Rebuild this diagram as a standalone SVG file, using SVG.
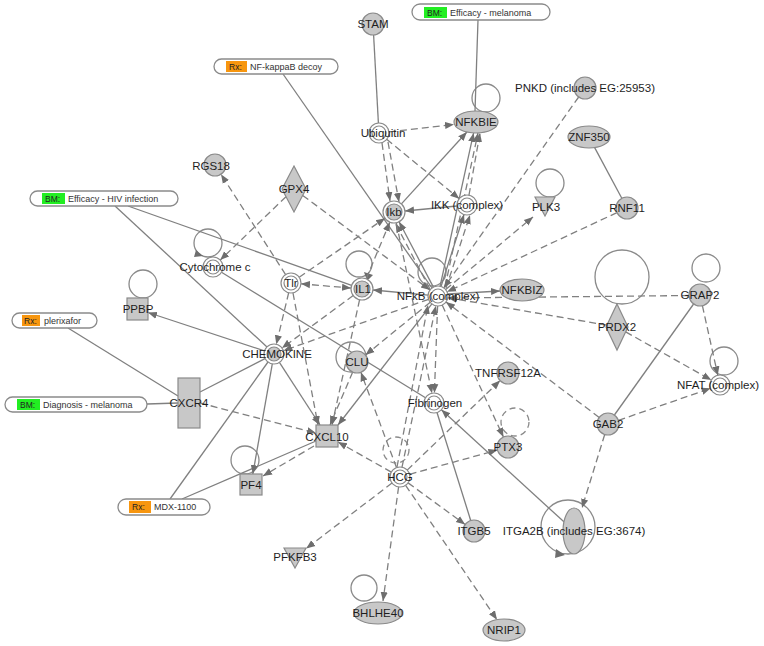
<svg xmlns="http://www.w3.org/2000/svg" width="764" height="646" viewBox="0 0 764 646">
<style>
.s{stroke:#808080;stroke-width:1.3;fill:none}
.d{stroke:#808080;stroke-width:1.3;fill:none;stroke-dasharray:7,4}
.a{marker-end:url(#ah)}
.b{marker-start:url(#ah);marker-end:url(#ah)}
.lp{stroke:#8a8a8a;stroke-width:1.3;fill:none}
.ld{stroke:#8a8a8a;stroke-width:1.3;fill:none;stroke-dasharray:6,4}
.g{fill:#c8c8c8;stroke:#8a8a8a;stroke-width:1.2}
.w{fill:#fff;stroke:#8a8a8a;stroke-width:1.2}
.t{font-family:"Liberation Sans",Arial,sans-serif;font-size:11.5px;fill:#1e1e1e;text-anchor:middle}
.pill{fill:#fff;stroke:#8a8a8a;stroke-width:1.3}
.pt{font-family:"Liberation Sans",Arial,sans-serif;font-size:9px;fill:#333}
.tg{font-family:"Liberation Sans",Arial,sans-serif;font-size:8.5px;fill:#222}
.bm{fill:#22ee22}
.rx{fill:#f7960f}
.ah{fill:#6e6e6e}
</style>
<defs>
<marker id="ah" viewBox="0 0 10 10" refX="10" refY="5" markerWidth="9" markerHeight="9" markerUnits="userSpaceOnUse" orient="auto-start-reverse">
<path d="M0,1 L10,5 L0,9 z" fill="#6e6e6e"/>
</marker>
</defs>
<rect width="764" height="646" fill="#fff"/>
<g id="connectors">
<!-- self loops -->
<circle class="lp" cx="486" cy="98" r="14"/>
<circle class="lp" cx="550" cy="183" r="14"/>
<circle class="lp" cx="208" cy="243" r="14"/>
<circle class="lp" cx="359" cy="264" r="13"/>
<circle class="lp" cx="432" cy="272" r="14"/>
<circle class="lp" cx="143" cy="284" r="14"/>
<circle class="lp" cx="351" cy="357" r="15"/>
<circle class="ld" cx="515" cy="422" r="14"/>
<circle class="lp" cx="622" cy="277" r="27"/>
<circle class="lp" cx="706" cy="268" r="14"/>
<circle class="lp" cx="724" cy="361" r="14"/>
<circle class="lp" cx="245" cy="460" r="14"/>
<circle class="ld" cx="396" cy="450" r="13"/>
<circle class="lp" cx="568" cy="527" r="27"/>
<circle class="lp" cx="364" cy="588" r="13"/>
<polygon class="ah" points="364,272 373,275 367,281"/>
<polygon class="ah" points="556,549 565,555 555,558"/>
<polygon class="ah" points="196,250 203,256 194,257"/>
<!-- solid, no arrow -->
<line class="s" x1="373.6" y1="35" x2="378.4" y2="123"/>
<line class="s" x1="478" y1="20" x2="475" y2="111"/>
<line class="s" x1="283" y1="74" x2="432" y2="288"/>
<line class="s" x1="115" y1="206" x2="267" y2="347"/>
<line class="s" x1="128" y1="206" x2="351.6" y2="285.3"/>
<line class="s" x1="68" y1="328" x2="178" y2="396"/>
<line class="s" x1="147" y1="404" x2="178" y2="403"/>
<line class="s" x1="170" y1="499" x2="268" y2="362"/>
<line class="s" x1="182" y1="499" x2="316" y2="441"/>
<line class="s" x1="265" y1="358.6" x2="200" y2="392"/>
<line class="s" x1="221.5" y1="272.2" x2="425.5" y2="397.8"/>
<line class="s" x1="437" y1="412.5" x2="470.7" y2="520.5"/>
<line class="s" x1="693.6" y1="304" x2="614.4" y2="415"/>
<line class="s" x1="594.4" y1="147.1" x2="621.8" y2="198.3"/>
<!-- solid, arrow -->
<line class="s a" x1="264.5" y1="350.9" x2="148" y2="312.5"/>
<line class="s a" x1="272.3" y1="363.9" x2="252.8" y2="474"/>
<line class="s a" x1="279.4" y1="362.4" x2="320" y2="425"/>
<line class="s a" x1="457" y1="206" x2="405" y2="211"/>
<line class="s a" x1="401.4" y1="203.9" x2="466.9" y2="132"/>
<line class="s a" x1="440.1" y1="286.2" x2="473.6" y2="132.9"/>
<line class="s a" x1="441" y1="286.5" x2="464" y2="214.5"/>
<line class="s a" x1="433.4" y1="287.1" x2="399.1" y2="221.7"/>
<line class="s a" x1="428" y1="295.1" x2="373" y2="290"/>
<line class="s a" x1="431.9" y1="303.9" x2="338" y2="425"/>
<line class="s a" x1="563.9" y1="521.8" x2="441.4" y2="409.8"/>
<line class="s a" x1="448" y1="294" x2="500" y2="291"/>
<!-- dashed -->
<line class="d a" x1="286" y1="196.7" x2="220.2" y2="260.1"/>
<line class="d a" x1="302.7" y1="195.4" x2="430" y2="290"/>
<line class="d a" x1="285.6" y1="274.6" x2="221" y2="174.3"/>
<line class="d a" x1="389" y1="131.9" x2="454" y2="124.5"/>
<line class="d a" x1="382" y1="143" x2="390" y2="201"/>
<line class="d a" x1="388" y1="142" x2="399" y2="202"/>
<line class="d a" x1="386.7" y1="139.3" x2="459.3" y2="198.7"/>
<line class="d a" x1="445" y1="287" x2="478" y2="133"/>
<line class="d a" x1="469" y1="195" x2="480" y2="133"/>
<line class="d a" x1="446" y1="288" x2="470" y2="215"/>
<line class="d a" x1="429.9" y1="289" x2="395.6" y2="223.6"/>
<line class="d a" x1="299.2" y1="277.3" x2="385" y2="218.2"/>
<line class="d a" x1="366.2" y1="278.8" x2="389.8" y2="222.2"/>
<line class="d b" x1="301" y1="283.8" x2="351" y2="288.1"/>
<line class="d a" x1="288.7" y1="292.7" x2="276.3" y2="344.3"/>
<line class="d a" x1="293" y1="293" x2="318" y2="425"/>
<line class="d a" x1="353.2" y1="295.5" x2="282" y2="348.1"/>
<line class="d a" x1="428.6" y1="299.3" x2="283.4" y2="350.7"/>
<line class="d a" x1="359.6" y1="299.7" x2="332" y2="425"/>
<line class="d a" x1="430.2" y1="302.3" x2="365.5" y2="355"/>
<line class="d a" x1="396.5" y1="467.6" x2="360.9" y2="372.3"/>
<line class="d a" x1="352.7" y1="372.1" x2="330" y2="425"/>
<line class="d a" x1="200" y1="403" x2="316" y2="433"/>
<line class="d a" x1="314" y1="446" x2="263" y2="476"/>
<line class="d a" x1="391.3" y1="472.1" x2="338" y2="442"/>
<line class="d a" x1="392" y1="483.1" x2="306.2" y2="548.5"/>
<line class="d a" x1="398.6" y1="486.9" x2="383" y2="601"/>
<line class="d a" x1="405.6" y1="485.3" x2="497" y2="619.7"/>
<line class="d a" x1="408.1" y1="482.9" x2="465.1" y2="524.5"/>
<line class="d a" x1="409.6" y1="474.3" x2="497.4" y2="450"/>
<line class="d a" x1="407.2" y1="470.1" x2="500.1" y2="380.6"/>
<line class="d a" x1="402" y1="467.2" x2="435.9" y2="305.8"/>
<line class="d a" x1="397" y1="467" x2="428" y2="305"/>
<line class="d a" x1="437.6" y1="306" x2="434.4" y2="393"/>
<line class="d a" x1="396.3" y1="222.8" x2="432" y2="393.2"/>
<line class="d a" x1="442.2" y1="305.1" x2="503.4" y2="437"/>
<line class="d a" x1="599.2" y1="417.4" x2="446" y2="302"/>
<line class="d a" x1="606.9" y1="325.2" x2="447.9" y2="297.7"/>
<line class="d a" x1="625.7" y1="331.9" x2="711.3" y2="380.1"/>
<line class="d a" x1="689" y1="295.5" x2="448" y2="298"/>
<line class="d a" x1="702.4" y1="305.7" x2="717.8" y2="375.2"/>
<line class="d a" x1="618.4" y1="420.4" x2="710.6" y2="388.3"/>
<line class="d a" x1="604.7" y1="434.5" x2="582" y2="508"/>
<line class="d a" x1="578.7" y1="97" x2="443.8" y2="287.8"/>
<line class="d a" x1="617" y1="212.6" x2="447.1" y2="291.8"/>
<line class="d a" x1="445.7" y1="289.6" x2="533" y2="217"/>
</g>
<!-- pills -->
<g id="bm-efficacy-melanoma"><rect class="pill" x="412" y="4" width="138" height="16" rx="8"/><rect class="bm" x="424" y="7" width="23" height="11"/><text class="tg" x="427" y="15.5">BM:</text><text class="pt" x="450" y="15.5">Efficacy - melanoma</text></g>
<g id="rx-nfkappab-decoy"><rect class="pill" x="214" y="59" width="124" height="15" rx="7.5"/><rect class="rx" x="226" y="61" width="21" height="11"/><text class="tg" x="229" y="69.5">Rx:</text><text class="pt" x="250" y="69.5">NF-kappaB decoy</text></g>
<g id="bm-efficacy-hiv"><rect class="pill" x="30" y="191" width="148" height="15" rx="7.5"/><rect class="bm" x="42" y="193" width="23" height="11"/><text class="tg" x="45" y="201.5">BM:</text><text class="pt" x="68" y="201.5">Efficacy - HIV infection</text></g>
<g id="rx-plerixafor"><rect class="pill" x="12" y="313" width="85" height="15" rx="7.5"/><rect class="rx" x="22" y="315" width="18" height="11"/><text class="tg" x="24" y="323.5">Rx:</text><text class="pt" x="44" y="323.5">plerixafor</text></g>
<g id="bm-diagnosis-melanoma"><rect class="pill" x="5" y="397" width="142" height="15" rx="7.5"/><rect class="bm" x="17" y="399" width="23" height="11"/><text class="tg" x="20" y="407.5">BM:</text><text class="pt" x="43" y="407.5">Diagnosis - melanoma</text></g>
<g id="rx-mdx-1100"><rect class="pill" x="118" y="499" width="92" height="16" rx="8"/><rect class="rx" x="129" y="501" width="22" height="12"/><text class="tg" x="132" y="510">Rx:</text><text class="pt" x="154" y="510">MDX-1100</text></g>
<!-- nodes -->
<g id="STAM"><circle class="g" cx="373" cy="24" r="11"/><text class="t" x="373" y="28">STAM</text></g>
<g id="Ubiquitin"><circle class="w" cx="379" cy="133" r="10"/><circle class="w" cx="379" cy="133" r="7"/><text class="t" x="383" y="137">Ubiquitin</text></g>
<g id="NFKBIE"><ellipse class="g" cx="476" cy="122" rx="22" ry="11"/><text class="t" x="476" y="126">NFKBIE</text></g>
<g id="GPX4"><polygon class="g" points="294,166 306,189 294,212 282,189"/><text class="t" x="294" y="193">GPX4</text></g>
<g id="RGS18"><circle class="g" cx="215" cy="165" r="11"/><text class="t" x="211" y="170">RGS18</text></g>
<g id="Ikb"><circle class="w" cx="394" cy="212" r="11"/><circle class="g" cx="394" cy="212" r="8"/><text class="t" x="394" y="216">Ikb</text></g>
<g id="IKK"><circle class="w" cx="467" cy="205" r="10"/><circle class="w" cx="467" cy="205" r="7"/><text class="t" x="467" y="209">IKK (complex)</text></g>
<g id="PNKD"><circle class="g" cx="585" cy="88" r="11"/><text class="t" x="585" y="92">PNKD (includes EG:25953)</text></g>
<g id="ZNF350"><ellipse class="g" cx="589" cy="137" rx="21" ry="11"/><text class="t" x="589" y="141">ZNF350</text></g>
<g id="PLK3"><polygon class="g" points="535,197 555,197 545,216"/><text class="t" x="546" y="211">PLK3</text></g>
<g id="RNF11"><circle class="g" cx="627" cy="208" r="11"/><text class="t" x="627" y="212">RNF11</text></g>
<g id="Cytochrome-c"><circle class="w" cx="213" cy="267" r="10"/><circle class="w" cx="213" cy="267" r="7"/><text class="t" x="215" y="271">Cytochrome c</text></g>
<g id="Tlr"><circle class="w" cx="291" cy="283" r="10"/><circle class="w" cx="291" cy="283" r="7"/><text class="t" x="291" y="287">Tlr</text></g>
<g id="IL1"><circle class="w" cx="362" cy="289" r="11"/><circle class="g" cx="362" cy="289" r="8"/><text class="t" x="363" y="293">IL1</text></g>
<g id="NFkB"><circle class="w" cx="438" cy="296" r="10"/><circle class="w" cx="438" cy="296" r="7"/><text class="t" x="438" y="300">NFkB (complex)</text></g>
<g id="NFKBIZ"><ellipse class="g" cx="522" cy="290" rx="22" ry="11"/><text class="t" x="522" y="294">NFKBIZ</text></g>
<g id="PPBP"><rect class="g" x="127" y="298" width="21" height="22"/><text class="t" x="138" y="313">PPBP</text></g>
<g id="CHEMOKINE"><circle class="w" cx="274" cy="354" r="10"/><circle class="g" cx="274" cy="354" r="7"/><text class="t" x="277" y="358">CHEMOKINE</text></g>
<g id="CLU"><circle class="g" cx="357" cy="362" r="11"/><text class="t" x="357" y="366">CLU</text></g>
<g id="CXCR4"><rect class="g" x="178" y="378" width="22" height="50"/><text class="t" x="189" y="407">CXCR4</text></g>
<g id="CXCL10"><rect class="g" x="316" y="425" width="22" height="22"/><text class="t" x="327" y="441">CXCL10</text></g>
<g id="Fibrinogen"><circle class="w" cx="434" cy="403" r="10"/><circle class="w" cx="434" cy="403" r="7"/><text class="t" x="435" y="407">Fibrinogen</text></g>
<g id="TNFRSF12A"><circle class="g" cx="508" cy="373" r="11"/><text class="t" x="508" y="377">TNFRSF12A</text></g>
<g id="PTX3"><circle class="g" cx="508" cy="447" r="11"/><text class="t" x="508" y="451">PTX3</text></g>
<g id="PRDX2"><polygon class="g" points="617,304 628,327 617,350 606,327"/><text class="t" x="617" y="331">PRDX2</text></g>
<g id="GRAP2"><circle class="g" cx="700" cy="295" r="11"/><text class="t" x="700" y="299">GRAP2</text></g>
<g id="NFAT"><circle class="w" cx="720" cy="385" r="10"/><circle class="w" cx="720" cy="385" r="7"/><text class="t" x="718" y="389">NFAT (complex)</text></g>
<g id="GAB2"><circle class="g" cx="608" cy="424" r="11"/><text class="t" x="608" y="428">GAB2</text></g>
<g id="PF4"><rect class="g" x="240" y="474" width="22" height="21"/><text class="t" x="251" y="489">PF4</text></g>
<g id="HCG"><circle class="w" cx="400" cy="477" r="10"/><circle class="w" cx="400" cy="477" r="7"/><text class="t" x="400" y="481">HCG</text></g>
<g id="ITGB5"><circle class="g" cx="474" cy="531" r="11"/><text class="t" x="474" y="535">ITGB5</text></g>
<g id="ITGA2B"><ellipse class="g" cx="574" cy="531" rx="11" ry="23"/><text class="t" x="574" y="535">ITGA2B (includes EG:3674)</text></g>
<g id="PFKFB3"><polygon class="g" points="284,548 306,548 295,568"/><text class="t" x="295" y="561">PFKFB3</text></g>
<g id="BHLHE40"><ellipse class="g" cx="378" cy="613" rx="24" ry="11"/><text class="t" x="378" y="617">BHLHE40</text></g>
<g id="NRIP1"><ellipse class="g" cx="504" cy="630" rx="21" ry="11"/><text class="t" x="504" y="634">NRIP1</text></g>
</svg>
